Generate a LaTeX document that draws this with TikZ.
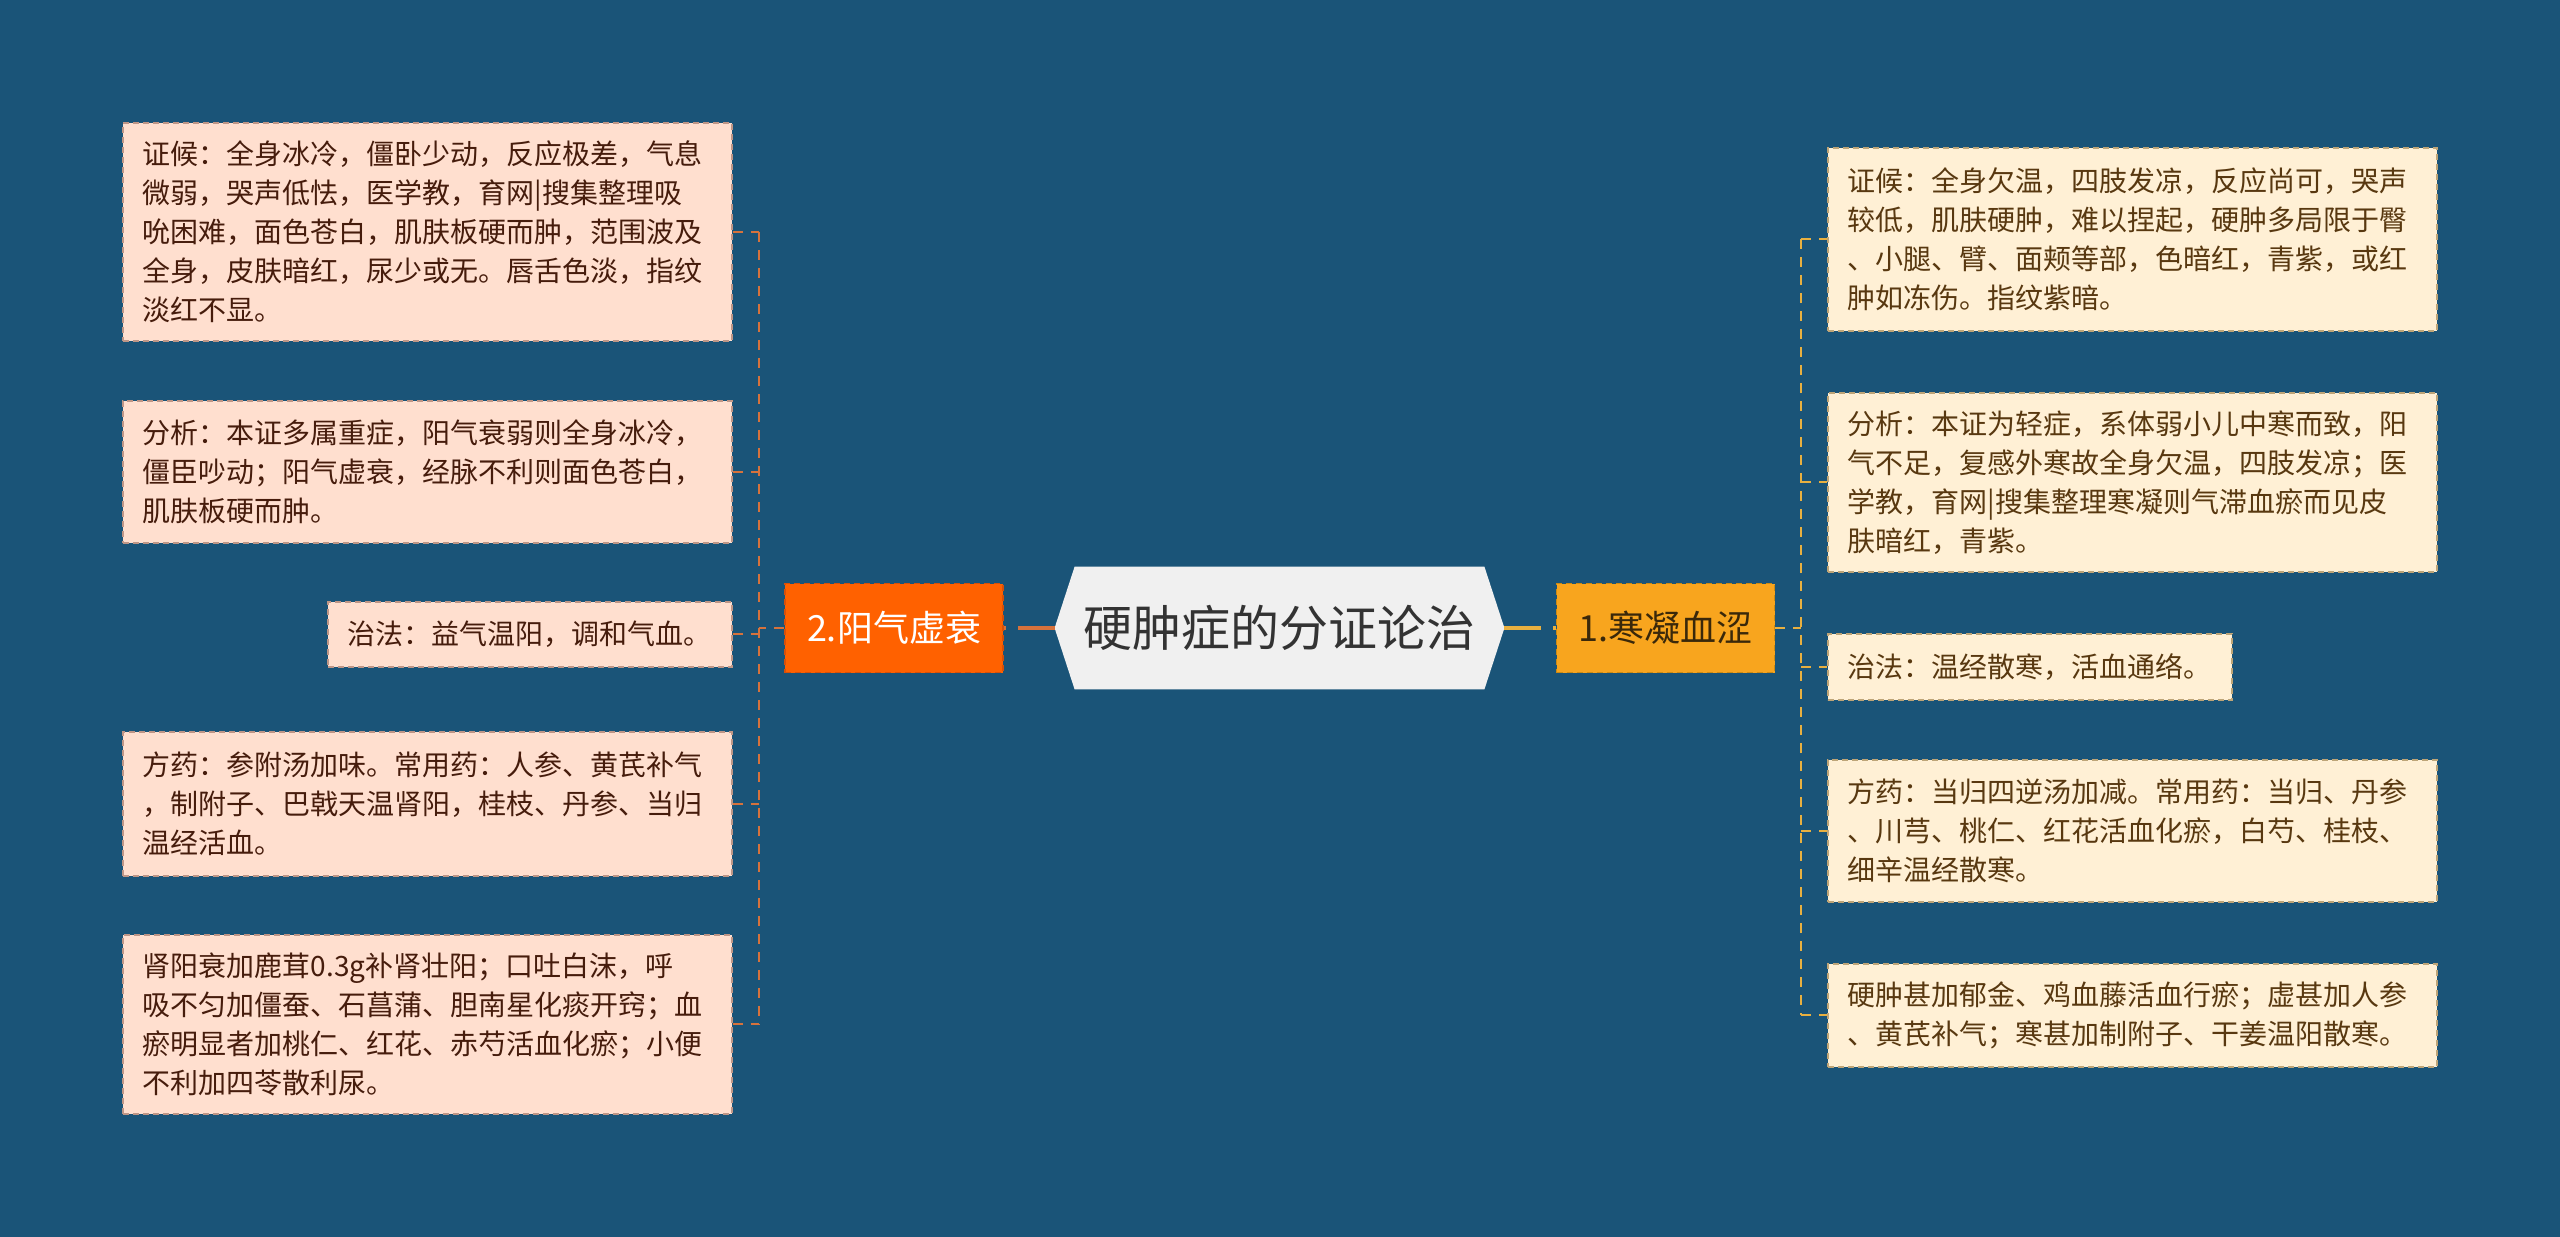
\documentclass[tikz,border=0pt]{standalone}
\usepackage{fontspec}
\newfontfamily\cjk{Noto Sans CJK SC}
\usetikzlibrary{backgrounds,calc}
\definecolor{bg}{RGB}{26,84,120}
\definecolor{lfill}{RGB}{255,223,207}
\definecolor{rfill}{RGB}{255,240,213}
\definecolor{lbord}{RGB}{190,150,135}
\definecolor{rbord}{RGB}{190,165,120}
\definecolor{ltext}{RGB}{70,28,12}
\definecolor{rtext}{RGB}{88,56,16}
\definecolor{lline}{RGB}{214,114,60}
\definecolor{rline}{RGB}{232,176,64}
\definecolor{ntwo}{RGB}{255,97,0}
\definecolor{ntwob}{RGB}{215,80,10}
\definecolor{nodeone}{RGB}{248,165,30}
\definecolor{nodeoneb}{RGB}{205,138,20}
\definecolor{nodeonet}{RGB}{58,40,10}
\definecolor{cfill}{RGB}{240,240,240}
\definecolor{ctext}{RGB}{51,51,51}
\begin{document}
\begin{tikzpicture}[x=0.5pt,y=-0.5pt,
  textbox/.style={anchor=north west, line width=0.8pt, dash pattern=on 3pt off 2pt,
    inner xsep=10pt, inner ysep=0pt, align=left,
    font=\cjk\fontsize{14pt}{19.5pt}\selectfont},
  leftbox/.style={textbox, draw=lbord, fill=lfill, text=ltext},
  rightbox/.style={textbox, draw=rbord, fill=rfill, text=rtext},
  widebox/.style={minimum width=304.5pt, text width=284.5pt},
  shortbox/.style={minimum width=202pt, text width=182pt},
  branchbox/.style={line width=0.8pt, dash pattern=on 3pt off 2pt, inner sep=0pt,
    font=\cjk\fontsize{18pt}{22pt}\selectfont, minimum width=109pt, minimum height=44.5pt},
  lconn/.style={draw=lline, line width=1pt, dash pattern=on 5pt off 4pt},
  rconn/.style={draw=rline, line width=1pt, dash pattern=on 5pt off 4pt},
  mainconn/.style={line width=2pt, dash pattern=on 18.5pt off 6pt}
]
\begin{scope}[on background layer]
\fill[bg] (0,0) rectangle (2560,1237);
\end{scope}
\useasboundingbox (0,0) rectangle (2560,1237);

% centre
\node[font=\cjk\fontsize{24.5pt}{28pt}\selectfont, text=ctext, minimum width=224.5pt, minimum height=61pt, inner sep=0pt] (C) at (1279.5,628) {硬肿症的分证论治};
\begin{scope}[on background layer]
\fill[cfill] (C.west) -- ($(C.north west)+(20,0)$) -- ($(C.north east)+(-20,0)$) -- (C.east)
  -- ($(C.south east)+(-20,0)$) -- ($(C.south west)+(20,0)$) -- cycle;
\end{scope}

% branches
\node[branchbox, draw=ntwob, fill=ntwo, text=white] (N2) at (894,628) {2.阳气虚衰};
\node[branchbox, draw=nodeoneb, fill=nodeone, text=nodeonet] (N1) at (1665.5,628) {1.寒凝血涩};

% left boxes
\node[leftbox, widebox, minimum height=109pt] (L1) at (122,122) {证候：全身冰冷，僵卧少动，反应极差，气息\\微弱，哭声低怯，医学教，育网|搜集整理吸\\吮困难，面色苍白，肌肤板硬而肿，范围波及\\全身，皮肤暗红，尿少或无。唇舌色淡，指纹\\淡红不显。};
\node[leftbox, widebox, minimum height=71pt] (L2) at (122,400) {分析：本证多属重症，阳气衰弱则全身冰冷，\\僵臣吵动；阳气虚衰，经脉不利则面色苍白，\\肌肤板硬而肿。};
\node[leftbox, shortbox, minimum height=32.5pt] (L3) at (327,601) {治法：益气温阳，调和气血。};
\node[leftbox, widebox, minimum height=72pt] (L4) at (122,731) {方药：参附汤加味。常用药：人参、黄芪补气\\，制附子、巴戟天温肾阳，桂枝、丹参、当归\\温经活血。};
\node[leftbox, widebox, minimum height=89.5pt] (L5) at (122,934) {肾阳衰加鹿茸0.3g补肾壮阳；口吐白沫，呼\\吸不匀加僵蚕、石菖蒲、胆南星化痰开窍；血\\瘀明显者加桃仁、红花、赤芍活血化瘀；小便\\不利加四苓散利尿。};

% right boxes
\node[rightbox, widebox, minimum height=91.5pt] (R1) at (1827,147) {证候：全身欠温，四肢发凉，反应尚可，哭声\\较低，肌肤硬肿，难以捏起，硬肿多局限于臀\\、小腿、臂、面颊等部，色暗红，青紫，或红\\肿如冻伤。指纹紫暗。};
\node[rightbox, widebox, minimum height=89.5pt] (R2) at (1827,392) {分析：本证为轻症，系体弱小儿中寒而致，阳\\气不足，复感外寒故全身欠温，四肢发凉；医\\学教，育网|搜集整理寒凝则气滞血瘀而见皮\\肤暗红，青紫。};
\node[rightbox, shortbox, minimum height=33pt] (R3) at (1827,633) {治法：温经散寒，活血通络。};
\node[rightbox, widebox, minimum height=71pt] (R4) at (1827,759) {方药：当归四逆汤加减。常用药：当归、丹参\\、川芎、桃仁、红花活血化瘀，白芍、桂枝、\\细辛温经散寒。};
\node[rightbox, widebox, minimum height=51.5pt] (R5) at (1827,963) {硬肿甚加郁金、鸡血藤活血行瘀；虚甚加人参\\、黄芪补气；寒甚加制附子、干姜温阳散寒。};

% main connectors
\draw[mainconn, draw=lline] (C.west) -- (N2.east);
\draw[mainconn, draw=rline] (C.east) -- (N1.west);

% left tree
\coordinate (lv) at (759,0);
\draw[lconn] (N2.west) -- (N2.west -| lv);
\draw[lconn] (L1.east -| lv) -- (L5.east -| lv);
\foreach \b in {L1,L2,L3,L4,L5} \draw[lconn] (\b.east) -- (\b.east -| lv);

% right tree
\coordinate (rv) at (1801,0);
\draw[rconn] (N1.east) -- (N1.east -| rv);
\draw[rconn] (R1.west -| rv) -- (R5.west -| rv);
\foreach \b in {R1,R2,R3,R4,R5} \draw[rconn] (\b.west -| rv) -- (\b.west);
\end{tikzpicture}
\end{document}
